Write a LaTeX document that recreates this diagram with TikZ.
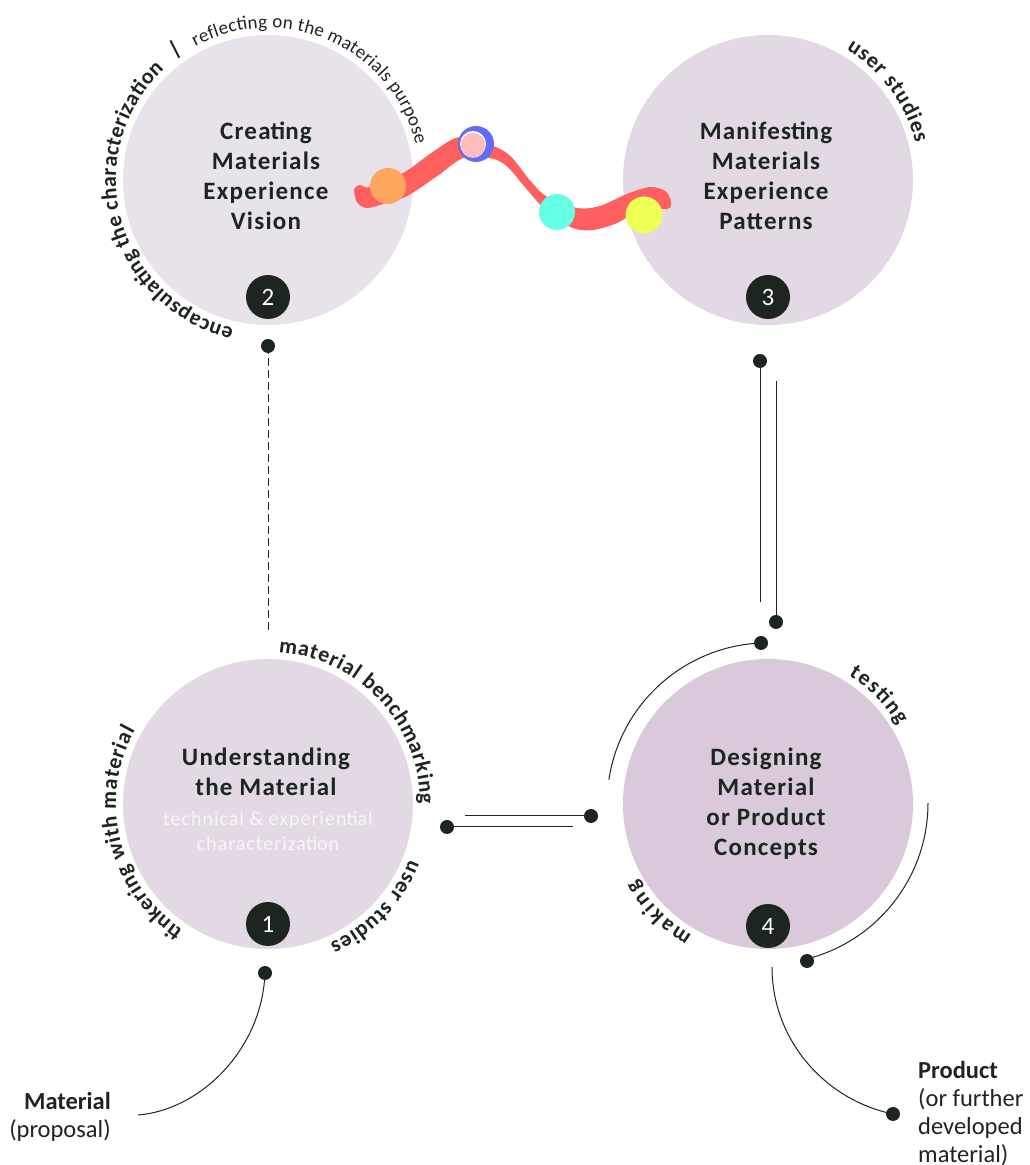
\documentclass[tikz,border=0pt]{standalone}
\usepackage{fontspec}
\setmainfont{Carlito}
\usetikzlibrary{decorations.text}
\definecolor{ink}{HTML}{1D2520}
\definecolor{cA}{HTML}{E2D9E4}
\definecolor{cB}{HTML}{E8E3EA}
\definecolor{cD}{HTML}{DAC9DB}
\definecolor{rope}{HTML}{FF5F5F}
\newcommand\tilig{{\addfontfeatures{LetterSpace=0}ti}}
\tikzset{
  x=1pt,y=1pt,
  phase/.style={circle,draw=none,minimum size=290pt,inner sep=0pt},
  badge/.style={circle,fill=ink,text=white,minimum size=44pt,inner sep=0pt,font=\fontsize{25}{28}\selectfont},
  dotnode/.style={circle,fill=ink,minimum size=14pt,inner sep=0pt},
  title/.style={text=ink,align=center,inner sep=0pt,font=\fontsize{25}{30}\selectfont\bfseries\addfontfeatures{LetterSpace=5}},
  side/.style={text=ink,inner sep=0pt,font=\fontsize{24.5}{28}\selectfont},
  wire/.style={draw=ink,line width=1pt},
  ringbold/.style={decorate,decoration={text along path,text align={fit to path},
     text={|\fontsize{22}{24}\selectfont\bfseries\color{ink}|#1}}},
  ringthin/.style={decorate,decoration={text along path,text align={fit to path},
     text={|\fontsize{19}{20}\selectfont\color{ink}|#1}}},
  blob/.style={circle,minimum size=36pt,inner sep=0pt}
}
\begin{document}
\begin{tikzpicture}
\useasboundingbox (0,0) rectangle (1029,1165);
% phases (y = 1165 - pixel row)
\node[phase,fill=cA] (p1) at (268,361) {};
\node[phase,fill=cB] (p2) at (268,985) {};
\node[phase,fill=cA] (p3) at (768,985) {};
\node[phase,fill=cD] (p4) at (768,361) {};
% squiggle
\filldraw[fill=rope,draw=rope,line width=2pt,line join=round] plot[smooth cycle,tension=0.5] coordinates {
 (355,975) (360,979) (370,977) (405,992) (433,1012) (460,1027) (493,1018) (510,1008) (530,983) (547,967)
 (577,956) (600,958) (627,970) (650,977) (665,973) (670,963) (667,957) (643,958) (617,943) (593,936)
 (573,938) (547,955) (527,977) (507,1000) (490,1008) (463,1008) (437,990) (407,970) (383,962) (367,958) (358,963)};
\node[blob,fill={rgb,255:red,255;green,166;blue,94}] (bo) at (388,979) {};
\node[blob,fill={rgb,255:red,96;green,108;blue,250}] (bb) at (476,1021) {};
\node[circle,minimum size=26pt,inner sep=0pt,fill=white] (bw) at (473,1021) {};
\node[circle,minimum size=25pt,inner sep=0pt,fill={rgb,255:red,255;green,188;blue,188}] (bp) at (473,1019.5) {};
\node[blob,fill={rgb,255:red,100;green,255;blue,228}] (bt) at (557,953) {};
\node[blob,minimum size=37pt,fill={rgb,255:red,238;green,255;blue,85}] (by) at (644,950) {};
% titles
\node[title] (t2) at (266,989) {Crea\tilig ng\\Materials\\Experience\\Vision};
\node[title] (t3) at (766,989) {Manifes\tilig ng\\Materials\\Experience\\Patterns};
\node[title] (t1) at (266,393) {Understanding\\the Material};
\node[title] (t4) at (766,361) {Designing\\Material\\or Product\\Concepts};
\node[align=center,inner sep=0pt,text={rgb,255:red,248;green,244;blue,248},font=\fontsize{20}{25}\selectfont\addfontfeatures{LetterSpace=5}] (sub) at (268,334) {technical \& experien\tilig al\\characteriza\tilig on};
% badges
\node[badge] (n1) at (268,241) {1};
\node[badge] (n2) at (268,868) {2};
\node[badge] (n3) at (768,868) {3};
\node[badge] (n4) at (768,239) {4};
% ring text
\path[ringbold={encapsula{ti}ng the characteriza{ti}on}] (268,985) ++(257:152) arc[start angle=257,end angle=133,radius=152];
\path[ringthin={reflec{ti}ng on the materials purpose}] (268,985) ++(118.5:152) arc[start angle=118.5,end angle=13.5,radius=152];
\path[ringbold={user studies}] (768,985) ++(59:152) arc[start angle=59,end angle=14,radius=152];
\path[ringbold={material benchmarking}] (268,361) ++(86:152) arc[start angle=86,end angle=0,radius=152];
\path[ringbold={{ti}nkering with material}] (268,361) ++(236:152) arc[start angle=236,end angle=151,radius=152];
\path[ringbold={user studies}] (268,361) ++(-21.5:152) arc[start angle=-21.5,end angle=-66,radius=152];
\path[ringbold={tes{ti}ng}] (768,361) ++(58:152) arc[start angle=58,end angle=31,radius=152];
\path[ringbold={making}] (768,361) ++(240:152) arc[start angle=240,end angle=210,radius=152];
\node[text=ink,inner sep=0pt,rotate=27,font=\fontsize{22}{24}\selectfont\bfseries] (bar) at (175,1115) {|};
% dots
\node[dotnode] (d2) at (268,819) {};
\node[dotnode] (d3a) at (760,804) {};
\node[dotnode] (d3b) at (776,543) {};
\node[dotnode] (d4a) at (761,522) {};
\node[dotnode] (d4l) at (591,349) {};
\node[dotnode] (d1r) at (447,338) {};
\node[dotnode] (d4r) at (807,204) {};
\node[dotnode] (d1b) at (265,192) {};
\node[dotnode] (d4b) at (893,51) {};
% free ends
\coordinate (e2) at (268,535);
\coordinate (e3a) at (760,563);
\coordinate (e3b) at (776,784);
\coordinate (e4l) at (465,349);
\coordinate (e1r) at (573,338);
\coordinate (e4s) at (928,362);
\coordinate (e1c) at (138,50);
\coordinate (e4c) at (772,198);
% connectors
\draw[wire,dash pattern=on 8pt off 4pt] (d2.center) -- (e2);
\draw[wire] (d3a.center) -- (e3a);
\draw[wire] (d3b.center) -- (e3b);
\draw[wire] (d4l.center) -- (e4l);
\draw[wire] (d1r.center) -- (e1r);
\draw[wire] (d4a.center) arc[start angle=92.5,end angle=171.4,radius=161];
\draw[wire] (e4s) arc[start angle=0,end angle=-76,radius=161];
\draw[wire] (d1b.center) .. controls (262,115) and (200,55) .. (e1c);
\draw[wire] (e4c) .. controls (772,125) and (825,65) .. (d4b.center);
% labels
\node[side,anchor=east,align=right] (m1) at (111,48) {\textbf{Material}\\[0pt](proposal)};
\node[side,anchor=west,align=left] (m2) at (918,51) {\textbf{Product}\\(or further\\developed\\material)};
\end{tikzpicture}
\end{document}
